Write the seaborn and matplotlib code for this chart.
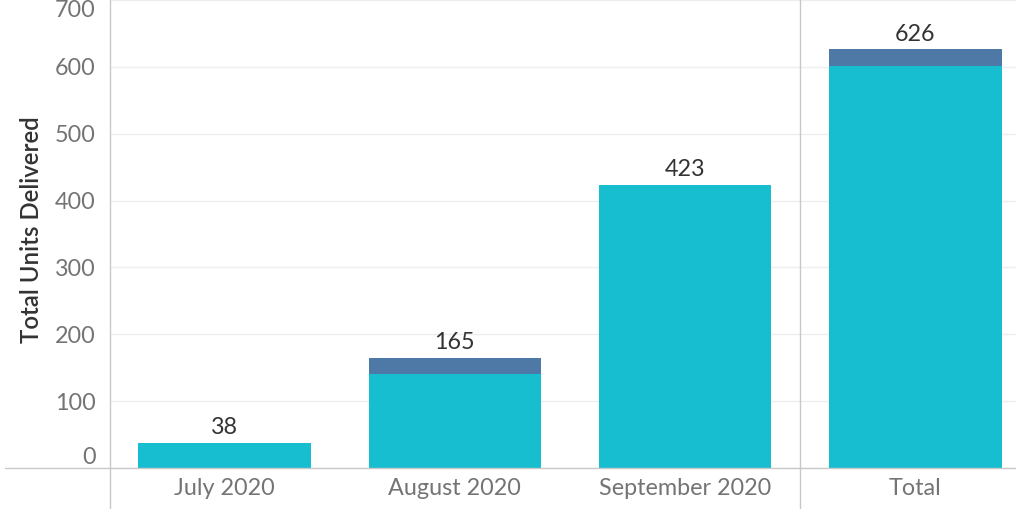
import numpy as np
import pandas as pd
import seaborn as sns
import matplotlib.pyplot as plt
from matplotlib.lines import Line2D
from matplotlib import transforms

# data
months = ["July 2020", "August 2020", "September 2020", "Total"]
teal_units = [38, 141, 423, 602]
blue_units = [0, 24, 0, 24]
y_ticks = [0, 100, 200, 300, 400, 500, 600, 700]

sns.set_theme(style="white")
plt.rcParams['font.family'] = ['Lato', 'DejaVu Sans']

df = pd.DataFrame({"month": months, "teal": teal_units, "blue": blue_units})
df["total"] = df["teal"] + df["blue"]

fig = plt.figure(figsize=(10.16, 5.09), dpi=100)
W, H = 1016, 509
ax = fig.add_axes([110 / W, 41 / H, 906 / W, 468 / H])

sns.barplot(data=df, x="month", y="total", color="#4e79a7", saturation=1,
            width=0.75, linewidth=0, ax=ax, zorder=2)
sns.barplot(data=df, x="month", y="teal", color="#17becf", saturation=1,
            width=0.75, linewidth=0, ax=ax, zorder=3)

for i, v in enumerate(df["total"]):
    ax.annotate(str(v), (i, v), xytext=(0, 3.5), textcoords="offset points",
                ha="center", va="bottom", fontsize=16.8, color="#333333", zorder=4)

ax.set_xlim(-0.498, 3.437)
ax.set_ylim(0, 700)
ax.set_yticks(y_ticks)
ax.set_yticklabels([str(t) for t in y_ticks])
labels = ax.get_yticklabels()
labels[0].set_va("bottom")
labels[-1].set_va("top")
# nudge the edge labels a little inward, as in the reference
labels[0].set_transform(labels[0].get_transform() +
                        transforms.ScaledTranslation(0, 3 / 100, fig.dpi_scale_trans))
labels[-1].set_transform(labels[-1].get_transform() +
                         transforms.ScaledTranslation(0, -3 / 100, fig.dpi_scale_trans))

ax.tick_params(axis="y", length=4.5, width=1, color="#e6e6e6", pad=6,
               labelsize=16.8, labelcolor="#747474")
ax.tick_params(axis="x", length=0, pad=7, labelsize=16.8, labelcolor="#747474")
ax.yaxis.grid(True, color="#eeeeee", lw=1, zorder=0)
ax.set_axisbelow(True)
for s in ax.spines.values():
    s.set_visible(False)

ax.set_xlabel("")
ax.set_ylabel("Total Units Delivered", fontsize=17.3, color="#333333",
              fontweight="semibold")
ax.yaxis.set_label_coords(-0.074, 0.51)

# axis rules and pane separator drawn across the figure
line_c = "#c8c8c8"
fig.add_artist(Line2D([5 / W, 1], [41 / H, 41 / H], color=line_c, lw=1,
                      transform=fig.transFigure))
fig.add_artist(Line2D([110 / W, 110 / W], [0, 1], color=line_c, lw=1,
                      transform=fig.transFigure))
blend = transforms.blended_transform_factory(ax.transData, fig.transFigure)
fig.add_artist(Line2D([2.5, 2.5], [0, 1], color=line_c, lw=1, transform=blend))

fig.savefig("out.png", dpi=100)
